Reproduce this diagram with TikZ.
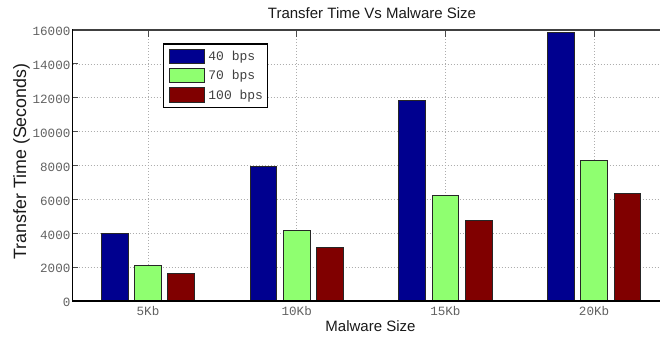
\documentclass[tikz,border=0pt]{standalone}
\usepackage{fontspec}
\setmainfont{Liberation Sans}
\newfontfamily\monofont{Liberation Mono}
\definecolor{barblue}{rgb}{0,0,0.5625}
\definecolor{bargreen}{rgb}{0.5625,1,0.4375}
\definecolor{barred}{rgb}{0.5,0,0}
\definecolor{ticktext}{gray}{0.38}
\definecolor{legtext}{gray}{0.25}
\definecolor{gridcol}{gray}{0.68}

% plot frame: left 72.7, top 30, bottom 301 (value 0), 16000 -> 271 units
\newcommand{\yv}[1]{301-(#1)*0.0169375}

\tikzset{
  gridline/.style={gridcol, line width=0.6pt, dash pattern=on 1pt off 2pt},
  barbox/.style={draw=black!85, line width=0.9pt},
  axisline/.style={black, line width=1.4pt},
  tickmark/.style={black!70, line width=0.8pt},
  yticklabel/.style={anchor=east, inner sep=0pt, text=ticktext, font=\monofont\fontsize{12.6}{13}\selectfont},
  xticklabel/.style={anchor=center, inner sep=0pt, text=ticktext, font=\monofont\fontsize{12.6}{13}\selectfont},
  legendtext/.style={anchor=west, inner sep=0pt, text=legtext, font=\monofont\fontsize{13}{14}\selectfont},
  labeltext/.style={inner sep=0pt, text=black!90}
}

\begin{document}
\begin{tikzpicture}[x=1pt,y=-1pt]
\useasboundingbox (0,0) rectangle (660,341);
\begin{scope}
\clip (0,0) rectangle (660,341);

% horizontal grid
\foreach \v in {2000,4000,6000,8000,10000,12000,14000}
  \draw[gridline] (72.7,{\yv{\v}}) -- (668,{\yv{\v}});
% vertical grid at category centres
\foreach \i in {0,1,2,3}
  \draw[gridline] ({148+\i*148.7},30) -- ({148+\i*148.7},301);

% bars: category / 40 bps / 70 bps / 100 bps
\foreach \i/\a/\b/\c in {0/3990/2100/1630, 1/7930/4170/3190, 2/11870/6250/4780, 3/15840/8325/6355}{
  \pgfmathsetmacro{\cx}{148+\i*148.7}
  \draw[barbox, fill=barblue]  ({\cx-33.2-13.35},301) rectangle ({\cx-33.2+13.35},{\yv{\a}});
  \draw[barbox, fill=bargreen] ({\cx-13.35},301) rectangle ({\cx+13.35},{\yv{\b}});
  \draw[barbox, fill=barred]   ({\cx+33.2-13.35},301) rectangle ({\cx+33.2+13.35},{\yv{\c}});
}

% ticks
\foreach \v in {2000,4000,6000,8000,10000,12000,14000}
  \draw[tickmark] (72.7,{\yv{\v}}) -- (78,{\yv{\v}});
\foreach \i in {0,1,2,3}
  \draw[tickmark] ({148+\i*148.7},30) -- ({148+\i*148.7},36.5);

% axes
\draw[black!75, line width=1.4pt] (72.7,30) -- (668,30);
\draw[axisline] (72.7,301) -- (668,301);
\draw[axisline] (72.7,29.3) -- (72.7,301.7);
\end{scope}

% y tick labels
\foreach \v in {0,2000,4000,6000,8000,10000,12000,14000,16000}
  \node[yticklabel] (ylab\v) at (70.6,{\yv{\v}+1.6}) {\v};

% x tick labels
\foreach \i/\t in {0/5Kb,1/10Kb,2/15Kb,3/20Kb}
  \node[xticklabel] (xlab\i) at ({148+\i*148.7},311) {\t};

% legend
\node[draw=black, line width=1.2pt, fill=white, minimum width=104pt, minimum height=63.4pt, inner sep=0pt, anchor=north west] (legend) at (162.7,43.3) {};
\foreach \k/\col/\t in {0/barblue/40 bps,1/bargreen/70 bps,2/barred/100 bps}{
  \draw[barbox, fill=\col] (169.3,{49+\k*19.3}) rectangle (204.3,{63.6+\k*19.3});
  \node[legendtext] (leg\k) at (208.2,{57.2+\k*19.3}) {\t};
}

% titles
\node[labeltext, anchor=base, font=\fontsize{15}{17}\selectfont] (title) at (372,18.3) {Transfer Time Vs Malware Size};
\node[labeltext, anchor=base, font=\fontsize{15}{17}\selectfont] (xlabel) at (370.5,331) {Malware Size};
\node[labeltext, anchor=base, rotate=90, font=\fontsize{17.8}{19}\selectfont] (ylabel) at (26,161.5) {Transfer Time (Seconds)};
\end{tikzpicture}
\end{document}
